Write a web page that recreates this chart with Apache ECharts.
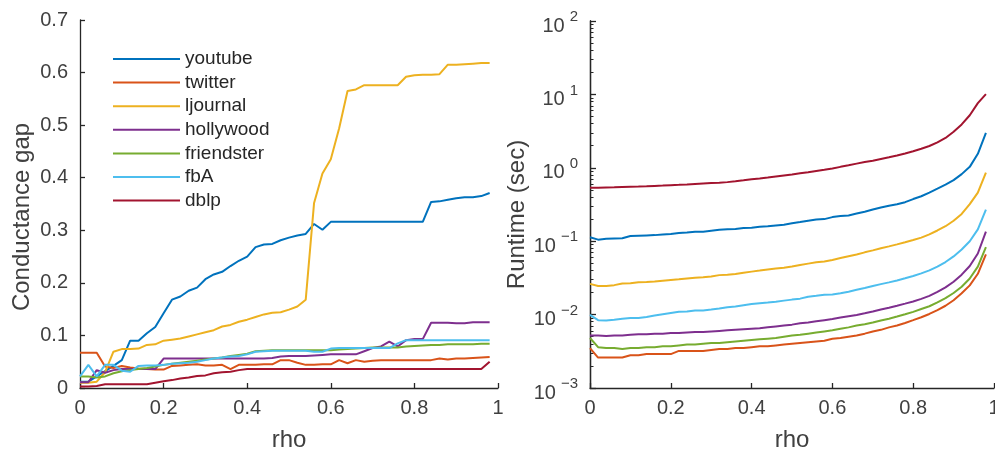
<!DOCTYPE html>
<html><head><meta charset="utf-8">
<script src="https://cdn.jsdelivr.net/npm/echarts@6/dist/echarts.min.js"></script>
<style>html,body{margin:0;padding:0;background:#fff}#c{width:995px;height:449px}</style>
</head><body><div id="c"></div>
<script>
const rho = [0,0.02,0.04,0.06,0.08,0.1,0.12,0.14,0.16,0.18,0.2,0.22,0.24,0.26,0.28,0.3,0.32,0.34,0.36,0.38,0.4,0.42,0.44,0.46,0.48,0.5,0.52,0.54,0.56,0.58,0.6,0.62,0.64,0.66,0.68,0.7,0.72,0.74,0.76,0.78,0.8,0.82,0.84,0.86,0.88,0.9,0.92,0.94,0.96,0.98];
const names = ['youtube','twitter','ljournal','hollywood','friendster','fbA','dblp'];
const colors = ['#0072BD','#D95319','#EDB120','#7E2F8E','#77AC30','#4DBEEE','#A2142F'];

// Conductance gap
const gap_youtube = [0.012,0.012,0.022,0.032,0.042,0.053,0.09,0.09,0.104,0.116,0.142,0.168,0.174,0.185,0.191,0.207,0.216,0.221,0.232,0.242,0.25,0.268,0.273,0.274,0.281,0.286,0.29,0.293,0.312,0.301,0.316,0.316,0.316,0.316,0.316,0.316,0.316,0.316,0.316,0.316,0.316,0.316,0.354,0.355,0.358,0.361,0.363,0.363,0.365,0.371];
const gap_twitter = [0.067,0.067,0.067,0.041,0.038,0.042,0.039,0.037,0.036,0.035,0.035,0.042,0.043,0.044,0.045,0.043,0.043,0.044,0.036,0.044,0.044,0.044,0.045,0.045,0.053,0.053,0.048,0.044,0.044,0.045,0.045,0.053,0.047,0.053,0.05,0.052,0.053,0.053,0.053,0.053,0.053,0.053,0.053,0.056,0.054,0.056,0.056,0.057,0.058,0.059];
const gap_ljournal = [0.01,0.01,0.012,0.03,0.069,0.074,0.074,0.075,0.082,0.083,0.09,0.092,0.094,0.098,0.102,0.106,0.11,0.117,0.12,0.126,0.13,0.135,0.14,0.143,0.144,0.149,0.155,0.168,0.352,0.408,0.435,0.494,0.565,0.568,0.576,0.576,0.576,0.576,0.576,0.592,0.595,0.596,0.596,0.597,0.615,0.615,0.616,0.617,0.618,0.618];
const gap_hollywood = [0.011,0.011,0.034,0.029,0.034,0.036,0.036,0.036,0.036,0.036,0.056,0.056,0.056,0.056,0.056,0.056,0.056,0.056,0.056,0.056,0.056,0.056,0.056,0.057,0.06,0.061,0.061,0.061,0.062,0.063,0.064,0.064,0.064,0.064,0.07,0.076,0.079,0.088,0.079,0.091,0.093,0.093,0.124,0.124,0.124,0.123,0.123,0.125,0.125,0.125];
const gap_friendster = [0.022,0.022,0.02,0.022,0.028,0.032,0.034,0.036,0.038,0.041,0.044,0.046,0.048,0.05,0.052,0.054,0.056,0.058,0.061,0.063,0.065,0.07,0.071,0.072,0.072,0.072,0.072,0.072,0.072,0.072,0.072,0.073,0.074,0.075,0.076,0.077,0.077,0.077,0.077,0.079,0.08,0.081,0.082,0.082,0.083,0.083,0.083,0.083,0.084,0.084];
const gap_fbA = [0.022,0.044,0.022,0.044,0.044,0.033,0.031,0.042,0.043,0.043,0.044,0.046,0.047,0.048,0.05,0.053,0.056,0.058,0.06,0.061,0.064,0.069,0.07,0.071,0.071,0.071,0.071,0.071,0.069,0.069,0.075,0.076,0.076,0.076,0.076,0.076,0.076,0.076,0.085,0.091,0.091,0.091,0.091,0.091,0.091,0.091,0.091,0.091,0.091,0.091];
const gap_dblp = [0.003,0.003,0.004,0.007,0.007,0.007,0.007,0.007,0.007,0.01,0.013,0.015,0.018,0.02,0.023,0.024,0.028,0.03,0.031,0.034,0.036,0.036,0.036,0.036,0.036,0.036,0.036,0.036,0.036,0.036,0.036,0.036,0.036,0.036,0.036,0.036,0.036,0.036,0.036,0.036,0.036,0.036,0.036,0.036,0.036,0.036,0.036,0.036,0.036,0.05];

// Runtime (sec)
const rt_youtube = [0.113,0.105,0.108,0.109,0.11,0.118,0.119,0.12,0.121,0.123,0.125,0.129,0.131,0.135,0.135,0.139,0.143,0.145,0.147,0.151,0.152,0.157,0.16,0.164,0.168,0.175,0.182,0.19,0.197,0.2,0.213,0.22,0.224,0.238,0.252,0.27,0.288,0.305,0.318,0.34,0.375,0.41,0.46,0.52,0.59,0.68,0.82,1.03,1.55,3.0];
const rt_twitter = [0.0035,0.0026,0.0026,0.0026,0.0026,0.0028,0.0028,0.0029,0.0029,0.0029,0.0029,0.0032,0.0032,0.0032,0.0032,0.0033,0.0034,0.0034,0.0035,0.0035,0.0036,0.0037,0.0037,0.0038,0.0039,0.004,0.0041,0.0042,0.0043,0.0044,0.0047,0.0048,0.005,0.0052,0.0055,0.0059,0.0062,0.0067,0.0071,0.0077,0.0084,0.0092,0.0102,0.0115,0.0132,0.0157,0.0195,0.025,0.036,0.066];
const rt_ljournal = [0.0262,0.0245,0.0245,0.0252,0.0265,0.0268,0.0275,0.0278,0.0282,0.029,0.0297,0.0302,0.031,0.0318,0.0322,0.033,0.0345,0.035,0.0358,0.0372,0.0385,0.0398,0.0412,0.0425,0.0435,0.0452,0.0475,0.0495,0.0515,0.053,0.0556,0.059,0.0625,0.066,0.0705,0.075,0.08,0.085,0.0905,0.097,0.104,0.112,0.124,0.14,0.16,0.19,0.235,0.32,0.46,0.86];
const rt_hollywood = [0.0052,0.0052,0.0051,0.0052,0.0052,0.0053,0.0054,0.0054,0.0055,0.0055,0.0056,0.0056,0.0057,0.0058,0.0058,0.0059,0.006,0.0061,0.0062,0.0063,0.0064,0.0065,0.0067,0.0069,0.0071,0.0073,0.0076,0.0078,0.0081,0.0084,0.0087,0.0091,0.0095,0.0099,0.0104,0.011,0.0117,0.0124,0.0132,0.0141,0.0151,0.0164,0.018,0.0204,0.0235,0.028,0.035,0.046,0.068,0.135];
const rt_friendster = [0.0048,0.0036,0.0035,0.0035,0.0034,0.0035,0.0035,0.0036,0.0036,0.0037,0.0037,0.0038,0.0039,0.0039,0.004,0.0041,0.0041,0.0042,0.0043,0.0044,0.0045,0.0046,0.0047,0.0048,0.005,0.0052,0.0053,0.0055,0.0057,0.0059,0.0061,0.0064,0.0067,0.0071,0.0074,0.0078,0.0083,0.0088,0.0094,0.0101,0.0109,0.0119,0.013,0.0147,0.0168,0.0197,0.024,0.031,0.045,0.083];
const rt_fbA = [0.0099,0.0084,0.0083,0.0085,0.0088,0.009,0.009,0.0093,0.0097,0.0101,0.0105,0.0109,0.011,0.0114,0.0114,0.0117,0.0121,0.0126,0.0129,0.0134,0.0139,0.0143,0.0146,0.015,0.0155,0.016,0.0165,0.0175,0.018,0.0186,0.0188,0.0195,0.0205,0.0218,0.023,0.0245,0.026,0.0275,0.0292,0.0312,0.0335,0.0365,0.04,0.045,0.052,0.062,0.077,0.1,0.145,0.27];
const rt_dblp = [0.536,0.536,0.54,0.543,0.548,0.553,0.556,0.56,0.566,0.572,0.58,0.586,0.594,0.603,0.612,0.62,0.628,0.638,0.655,0.675,0.7,0.715,0.735,0.76,0.785,0.81,0.84,0.87,0.905,0.94,0.98,1.03,1.08,1.14,1.2,1.25,1.32,1.39,1.47,1.57,1.68,1.82,1.98,2.22,2.55,3.1,3.9,5.2,7.6,10.1];

const xTicks = [0,0.2,0.4,0.6,0.8,1];
const gapTicks = [0,0.1,0.2,0.3,0.4,0.5,0.6,0.7];
const rtTicks = [0.001,0.01,0.1,1,10,100];

const gapSets = [gap_youtube,gap_twitter,gap_ljournal,gap_hollywood,gap_friendster,gap_fbA,gap_dblp];
const rtSets = [rt_youtube,rt_twitter,rt_ljournal,rt_hollywood,rt_friendster,rt_fbA,rt_dblp];

// minor ticks for log axis (2..9 per decade)
const minorVals = [];
for (let e = -3; e < 2; e++) for (let k = 2; k <= 9; k++) minorVals.push(+(k * Math.pow(10, e)).toPrecision(3));

const FONT = 'Liberation Sans';
const AX = '#262626';
const TXT = '#404040';

const xAxisBase = (gi) => ({
  type: 'value', gridIndex: gi, min: 0, max: 1, interval: 0.2,
  name: 'rho', nameLocation: 'middle', nameGap: 40,
  nameTextStyle: {fontFamily: FONT, fontSize: 24, color: TXT},
  axisLine: {show: true, onZero: false, lineStyle: {color: AX, width: 1.3}},
  axisTick: {show: true, inside: true, length: 5, lineStyle: {color: AX, width: 1.3}},
  axisLabel: {fontFamily: FONT, fontSize: 20, color: TXT, margin: 10},
  splitLine: {show: false}
});

const sup = (v) => {
  const e = Math.round(Math.log10(v));
  return '{b|10}{s|' + (e < 0 ? '\u2212' + (-e) : e) + '}';
};

const option = {
  animation: false,
  backgroundColor: '#fff',
  color: colors,
  grid: [
    {left: 80, top: 20, width: 418, height: 368, outerBoundsMode: 'none', containLabel: false},
    {left: 590, top: 21, width: 404, height: 367, outerBoundsMode: 'none', containLabel: false}
  ],
  legend: {
    orient: 'vertical', left: 108, top: 44, itemWidth: 67, itemHeight: 2, itemGap: 3.6,
    icon: 'rect',
    data: names,
    textStyle: {fontFamily: FONT, fontSize: 19, color: '#262626', lineHeight: 20},
    selectedMode: false
  },
  xAxis: [xAxisBase(0), xAxisBase(1)],
  yAxis: [
    {
      type: 'value', gridIndex: 0, min: 0, max: 0.7, interval: 0.1,
      name: 'Conductance gap', nameLocation: 'middle', nameGap: 46,
      nameTextStyle: {fontFamily: FONT, fontSize: 24, color: TXT, padding: [0, 26, 0, 0]},
      axisLine: {show: true, onZero: false, lineStyle: {color: AX, width: 1.3}},
      axisTick: {show: true, inside: true, length: 5, lineStyle: {color: AX, width: 1.3}},
      axisLabel: {fontFamily: FONT, fontSize: 20, color: TXT, margin: 12},
      splitLine: {show: false}
    },
    {
      type: 'log', gridIndex: 1, min: 0.001, max: 100, logBase: 10,
      name: 'Runtime (sec)', nameLocation: 'middle', nameGap: 57,
      nameTextStyle: {fontFamily: FONT, fontSize: 24, color: TXT, padding: [0, 20, 0, 0]},
      axisLine: {show: true, onZero: false, lineStyle: {color: AX, width: 1.3}},
      axisTick: {show: true, inside: true, length: 6, lineStyle: {color: AX, width: 1.3}, customValues: rtTicks},
      axisLabel: {
        customValues: rtTicks,
        margin: 12, formatter: sup,
        rich: {
          b: {fontFamily: FONT, fontSize: 20, color: TXT, padding: [10, 0, 0, 0]},
          s: {fontFamily: FONT, fontSize: 15, color: TXT, padding: [0, 0, 8, 5]}
        }
      },
      splitLine: {show: false}
    },
    {
      type: 'log', gridIndex: 1, min: 0.001, max: 100, logBase: 10, position: 'left', offset: 0,
      axisLine: {show: true, onZero: false, lineStyle: {color: AX, width: 1.3}},
      axisTick: {show: true, inside: true, length: 3.5, lineStyle: {color: AX, width: 1}, customValues: minorVals},
      axisLabel: {show: true, customValues: minorVals, formatter: () => ''},
      splitLine: {show: false}
    }
  ],
  series: []
};

names.forEach((n, i) => {
  option.series.push({
    name: n, type: 'line', xAxisIndex: 0, yAxisIndex: 0, symbol: 'none',
    lineStyle: {width: 2, color: colors[i]}, itemStyle: {color: colors[i]},
    data: rho.map((x, j) => [x, gapSets[i][j]])
  });
});
names.forEach((n, i) => {
  option.series.push({
    name: n, type: 'line', xAxisIndex: 1, yAxisIndex: 1, symbol: 'none',
    lineStyle: {width: 2, color: colors[i]}, itemStyle: {color: colors[i]},
    data: rho.map((x, j) => [x, rtSets[i][j]])
  });
});

const chart = echarts.init(document.getElementById('c'), null, {renderer: 'canvas'});
chart.setOption(option);
</script>
</body></html>
